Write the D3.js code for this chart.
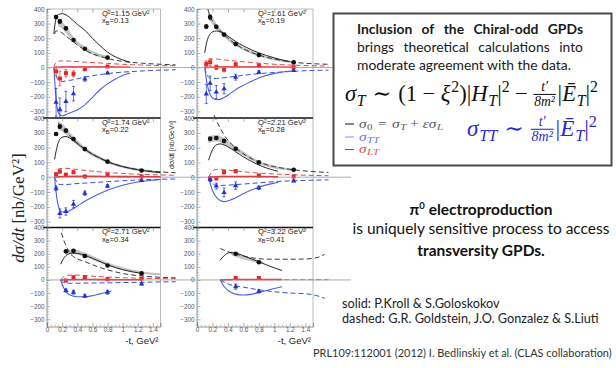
<!DOCTYPE html>
<html><head><meta charset="utf-8">
<script src="https://cdn.jsdelivr.net/npm/d3@7"></script>
<style>body{margin:0;background:#fff}svg{display:block}</style>
</head><body><svg id="c" width="616" height="368"></svg>
<script>
// ---------------- DATA ----------------
const panelQ2 = ["1.15","1.61","1.74","2.21","2.71","3.22"];
const panelXB = ["0.13","0.19","0.22","0.28","0.34","0.41"];
const xTickLabels = ["0","0.2","0.4","0.6","0.8","1","1.2","1.4"];
const xTickValues = [0,0.2,0.4,0.6,0.8,1.0,1.2,1.4];
const yTickValues = [-300,-200,-100,0,100,200,300,400];

const tPoints = [
  [0.12,0.17,0.25,0.35,0.5,0.8],
  [0.12,0.17,0.25,0.35,0.5,0.8,1.25],
  [0.12,0.17,0.25,0.35,0.5,0.8,1.25],
  [0.17,0.25,0.35,0.5,0.8,1.25],
  [0.25,0.35,0.5,0.8,1.25],
  [0.5,0.8]
];
const sigma0 = [
  [345,315,268,188,128,68],
  [280,345,278,225,160,85,35],
  [292,342,315,258,190,105,45],
  [260,265,245,192,100,50],
  [218,222,183,110,50],
  [200,135]
];
const sigma0Err = [
  [12,12,10,8,6,5],
  [12,15,10,8,6,5,4],
  [10,12,10,8,6,5,4],
  [10,10,8,6,5,4],
  [8,8,6,5,4],
  [8,6]
];
const sigmaLT = [
  [-27,-75,-38,-43,-11,7],
  [25,36,2,-14,22,14,2],
  [20,38,16,34,4,15,4],
  [-10,-8,34,40,11,5],
  [-5,20,20,5,10],
  [15,15]
];
const sigmaLTErr = [
  [30,50,25,20,10,8],
  [20,25,15,15,10,8,5],
  [10,12,10,10,8,6,5],
  [12,12,12,10,8,6],
  [8,10,10,8,6],
  [8,8]
];
const sigmaTT = [
  [-238,-288,-232,-179,-79,-38],
  [-180,-108,-168,-145,-66,-32,-20],
  [-75,-245,-232,-182,-108,-60,-23],
  [-15,-60,-103,-57,-72,-25],
  [-81,-94,-122,-94,-30],
  [-51,-87]
];
const sigmaTTErr = [
  [95,80,70,50,15,6],
  [65,50,45,35,20,10,5],
  [15,30,25,25,15,10,5],
  [15,20,30,25,12,6],
  [12,15,12,15,8],
  [20,12]
];

// model curves [ -t , value ]
const gkSigma0 = [
  [[0.09,230],[0.12,335],[0.15,362],[0.2,368],[0.25,360],[0.3,342],[0.4,295],[0.5,255],[0.6,200],[0.7,150],[0.8,105],[0.9,74],[1.0,52],[1.1,36]],
  [[0.1,100],[0.12,160],[0.15,212],[0.2,243],[0.25,250],[0.3,245],[0.4,215],[0.5,178],[0.6,148],[0.7,122],[0.8,100],[0.9,82],[1.0,66],[1.1,52],[1.2,40]],
  [[0.1,120],[0.12,175],[0.15,235],[0.2,270],[0.25,275],[0.3,265],[0.4,228],[0.5,188],[0.6,155],[0.7,130],[0.8,105],[1.0,72],[1.2,50],[1.4,36],[1.5,30]],
  [[0.15,115],[0.2,185],[0.25,218],[0.3,225],[0.4,205],[0.5,172],[0.6,137],[0.7,108],[0.8,82],[0.9,62],[1.0,46],[1.05,40]],
  [[0.18,120],[0.22,165],[0.27,193],[0.33,205],[0.4,203],[0.5,188],[0.6,165],[0.7,140],[0.8,115],[0.9,95],[1.0,78],[1.25,50]],
  [[0.3,150],[0.35,185],[0.42,208],[0.5,205],[0.6,185],[0.7,162],[0.8,138],[0.9,115],[1.0,92],[1.1,72]]
];
const gglSigma0 = [
  [[0.1,230],[0.12,250],[0.17,245],[0.25,215],[0.35,175],[0.5,120],[0.8,62],[1.0,42],[1.25,30],[1.5,22],[1.7,18]],
  [[0.14,400],[0.17,350],[0.2,318],[0.25,282],[0.35,225],[0.5,160],[0.8,85],[1.0,58],[1.25,36],[1.5,26],[1.7,22]],
  [[0.15,365],[0.2,335],[0.25,308],[0.35,255],[0.5,190],[0.8,105],[1.0,72],[1.25,48],[1.5,36],[1.7,30]],
  [[0.22,420],[0.3,330],[0.4,250],[0.5,198],[0.8,102],[1.0,72],[1.25,50],[1.5,38],[1.7,32]],
  [[0.19,360],[0.23,290],[0.27,240],[0.3,205],[0.35,178],[0.5,140],[0.7,95],[0.9,62],[1.1,40],[1.3,28],[1.5,20],[1.7,16]],
  [[0.3,240],[0.38,220],[0.45,205],[0.55,190],[0.7,170],[0.85,160],[1.0,158],[1.2,158],[1.4,160],[1.55,170],[1.65,195]]
];
const bandT = [
  [0.15,0.2,0.25,0.35,0.5,0.8],
  [0.15,0.2,0.25,0.35,0.5,0.8,1.25],
  [0.15,0.2,0.25,0.35,0.5,0.8,1.25,1.5],
  [0.15,0.25,0.35,0.5,0.8,1.25],
  [0.25,0.35,0.5,0.8,1.25,1.5],
  [0.45,0.6,0.75,0.85]
];
const bandLo = [
  [285,270,240,180,118,60],
  [330,300,265,210,150,78,32],
  [325,310,290,240,178,98,42,30],
  [235,245,225,180,92,44],
  [195,200,178,112,52,38],
  [190,160,138,122]
];
const bandHi = [
  [330,310,280,205,140,75],
  [370,340,295,235,170,92,40],
  [375,360,330,272,202,112,52,38],
  [275,282,262,205,108,54],
  [225,230,205,130,62,46],
  [215,182,155,138]
];
const gkTT = [
  [[0.09,0],[0.11,-150],[0.13,-260],[0.16,-318],[0.2,-330],[0.25,-322],[0.3,-310],[0.4,-290],[0.5,-255],[0.6,-205],[0.7,-152],[0.8,-112],[0.9,-80],[1.0,-55],[1.1,-38]],
  [[0.1,0],[0.13,-110],[0.17,-185],[0.22,-215],[0.27,-220],[0.35,-205],[0.45,-170],[0.55,-135],[0.7,-95],[0.85,-62],[1.0,-40],[1.15,-27],[1.25,-22]],
  [[0.1,0],[0.13,-140],[0.16,-210],[0.2,-235],[0.25,-235],[0.3,-225],[0.4,-195],[0.5,-162],[0.6,-135],[0.7,-110],[0.8,-88],[1.0,-55],[1.2,-33],[1.4,-20],[1.5,-15]],
  [[0.15,0],[0.2,-90],[0.25,-135],[0.3,-157],[0.35,-165],[0.45,-150],[0.55,-125],[0.65,-98],[0.8,-68],[0.9,-52],[1.0,-40],[1.05,-36]],
  [[0.18,0],[0.22,-60],[0.27,-100],[0.33,-120],[0.4,-128],[0.5,-128],[0.6,-120],[0.7,-106],[0.8,-92],[0.85,-85]],
  [[0.3,0],[0.35,-50],[0.42,-88],[0.5,-108],[0.6,-115],[0.7,-110],[0.8,-95],[0.9,-80],[1.0,-65],[1.1,-52]]
];
const gglTT = [
  [[0.09,0],[0.12,-55],[0.15,-85],[0.2,-95],[0.3,-88],[0.4,-78],[0.5,-66],[0.7,-48],[0.9,-36],[1.2,-25],[1.5,-18],[1.7,-15]],
  [[0.1,0],[0.13,-50],[0.17,-72],[0.25,-75],[0.35,-70],[0.5,-60],[0.8,-42],[1.0,-34],[1.25,-26],[1.5,-20],[1.7,-18]],
  [[0.1,0],[0.13,-35],[0.17,-50],[0.25,-50],[0.35,-45],[0.5,-40],[0.8,-30],[1.0,-24],[1.25,-18],[1.5,-14],[1.7,-12]],
  [[0.15,0],[0.2,-40],[0.25,-55],[0.35,-55],[0.5,-50],[0.8,-38],[1.0,-30],[1.25,-24],[1.5,-20],[1.7,-18]],
  [[0.18,0],[0.22,-20],[0.27,-25],[0.4,-25],[0.6,-23],[0.8,-22],[1.0,-20],[1.25,-18],[1.5,-15],[1.7,-14]],
  [[0.3,0],[0.4,-30],[0.5,-45],[0.6,-55],[0.8,-75],[1.0,-90],[1.2,-100],[1.4,-105],[1.55,-120],[1.65,-140]]
];
const gkLT = [
  [[0.09,0],[0.2,3],[0.5,4],[0.8,3],[1.1,2]],
  [[0.1,0],[0.3,4],[0.7,4],[1.25,2]],
  [[0.1,0],[0.2,5],[0.5,6],[1.0,4],[1.5,3]],
  [[0.15,0],[0.3,5],[0.6,5],[1.05,3]],
  [[0.18,0],[0.5,3],[1.0,2],[1.25,2]],
  [[0.3,0],[0.5,3],[1.1,3]]
];
const gglLT = [
  [[0.09,0],[0.12,35],[0.17,45],[0.25,45],[0.35,42],[0.5,37],[0.8,28],[1.0,22],[1.25,17],[1.5,13],[1.7,12]],
  [[0.1,0],[0.13,40],[0.17,55],[0.25,58],[0.35,52],[0.5,44],[0.8,30],[1.0,22],[1.25,16],[1.5,12],[1.7,10]],
  [[0.1,0],[0.13,45],[0.17,58],[0.25,60],[0.35,55],[0.5,46],[0.8,32],[1.0,25],[1.25,19],[1.5,15],[1.7,13]],
  [[0.15,0],[0.2,40],[0.25,52],[0.35,50],[0.5,42],[0.8,28],[1.0,22],[1.25,16],[1.5,12],[1.7,10]],
  [[0.18,0],[0.22,25],[0.27,35],[0.35,38],[0.5,33],[0.8,22],[1.0,17],[1.25,13],[1.5,10],[1.7,9]],
  [[0.3,0],[0.5,2],[1.0,2],[1.5,2],[1.7,2]]
];

// ---------------- LAYOUT ----------------
const svg = d3.select("#c");
const AX = "Liberation Sans, Arial, sans-serif";
const SLIDE = "Lato, 'Open Sans', sans-serif";
const SERIF = "Liberation Serif, 'DejaVu Serif', serif";
const colX = [[47,160.5],[197,313]];
const colOver = [197, 352];
const rowDom = [[-345,400],[-340,400],[-355,400]];
const rowRng = [[118,9],[227.5,118],[326.5,227.5]];
const C = {blk:"#262626", dash:"#3a3a3a", red:"#e3262b", redD:"#e24a4a", blue:"#4c5ee6", blueD:"#3a4dd8", bluePt:"#2233cc", band:"#c6c6c6"};

const defs = svg.append("defs");

panelQ2.forEach((q2, i) => {
  const col = i % 2, row = Math.floor(i / 2);
  const x = d3.scaleLinear().domain([0, 1.5]).range(colX[col]);
  const y = d3.scaleLinear().domain(rowDom[row]).range(rowRng[row]);
  const x0 = colX[col][0], x1 = colX[col][1];
  const yT = rowRng[row][1], yB = rowRng[row][0];
  const g = svg.append("g");

  defs.append("clipPath").attr("id", "clip" + i).append("rect")
    .attr("x", x0).attr("y", yT - 9).attr("width", colOver[col] - x0).attr("height", yB - yT + 9);

  // frame
  g.append("line").attr("x1", x1).attr("x2", x1).attr("y1", yT).attr("y2", yB).attr("stroke", "#aaa").attr("stroke-width", 0.8);
  g.append("line").attr("x1", x0).attr("x2", x0).attr("y1", yT).attr("y2", yB).attr("stroke", "#777").attr("stroke-width", 0.8);
  if (row > 0) g.append("line").attr("x1", x0 - 4).attr("x2", x1).attr("y1", yT).attr("y2", yT).attr("stroke", "#111").attr("stroke-width", 1.4);
  else g.append("line").attr("x1", x0).attr("x2", x1).attr("y1", yT).attr("y2", yT).attr("stroke", "#aaa").attr("stroke-width", 0.8);

  // y axis (inward ticks)
  const ya = g.append("g").attr("transform", `translate(${x0},0)`)
    .call(d3.axisLeft(y).tickValues(yTickValues).tickSize(-3.5).tickPadding(2.5).tickFormat(d3.format("d")));
  ya.select(".domain").remove();
  ya.selectAll("line").attr("stroke", "#777").attr("stroke-width", 0.6);
  ya.selectAll("text").attr("font-family", AX).attr("font-size", 6.3).attr("fill", "#555");
  const yMinor = d3.range(-340, 401, 20).filter(v => v >= rowDom[row][0] && v % 100 !== 0);
  const ym = g.append("g").attr("transform", `translate(${x0},0)`)
    .call(d3.axisLeft(y).tickValues(yMinor).tickSize(-2).tickFormat(""));
  ym.select(".domain").remove();
  ym.selectAll("line").attr("stroke", "#888").attr("stroke-width", 0.5);
  // top ticks
  const xt = g.append("g").attr("transform", `translate(0,${yT})`)
    .call(d3.axisTop(x).tickValues(xTickValues).tickSize(-3.5).tickFormat(""));
  xt.select(".domain").remove();
  xt.selectAll("line").attr("stroke", "#777").attr("stroke-width", 0.6);

  // bottom axis for last row
  if (row === 2) {
    const xa = g.append("g").attr("transform", `translate(0,${yB})`)
      .call(d3.axisBottom(x).tickValues(xTickValues).tickSize(-3.5).tickPadding(1.5).tickFormat((d, k) => xTickLabels[k]));
    xa.select(".domain").attr("stroke", "#777").attr("stroke-width", 0.8);
    xa.selectAll("line").attr("stroke", "#777").attr("stroke-width", 0.6);
    xa.selectAll("text").attr("font-family", AX).attr("font-size", 6.3).attr("fill", "#555");
    const xm = g.append("g").attr("transform", `translate(0,${yB})`)
      .call(d3.axisBottom(x).tickValues(d3.range(0.05, 1.5, 0.05).filter(v => Math.abs(v * 5 - Math.round(v * 5)) > 0.01)).tickSize(-2).tickFormat(""));
    xm.select(".domain").remove();
    xm.selectAll("line").attr("stroke", "#888").attr("stroke-width", 0.5);
    g.append("text").attr("x", x1 - 2).attr("y", yB + 17).attr("text-anchor", "end")
      .attr("font-family", AX).attr("font-size", 9.5).attr("fill", "#222").text("-t, GeV²");
  }

  // panel labels
  const lx = col === 0 ? 102 : 258;
  g.append("text").attr("x", lx).attr("y", yT + 6.5).attr("font-family", AX).attr("font-size", 7.6).attr("fill", "#222")
    .text(`Q²=${q2} GeV²`);
  const xb = g.append("text").attr("x", lx).attr("y", yT + 14).attr("font-family", AX).attr("font-size", 7.6).attr("fill", "#222");
  xb.append("tspan").text("x");
  xb.append("tspan").attr("font-size", 5.5).attr("dy", 1.5).text("B");
  xb.append("tspan").attr("dy", -1.5).text("=" + panelXB[i]);

  const pg = g.append("g").attr("clip-path", `url(#clip${i})`);
  const line = d3.line().x(d => x(d[0])).y(d => y(d[1])).curve(d3.curveMonotoneX);

  // band
  const bd = bandT[i].map((t, k) => ({t, lo: bandLo[i][k], hi: bandHi[i][k]}));
  pg.append("path").datum(bd)
    .attr("d", d3.area().x(d => x(d.t)).y0(d => y(d.lo)).y1(d => y(d.hi)).curve(d3.curveMonotoneX))
    .attr("fill", C.band).attr("stroke", "#a8a8a8").attr("stroke-width", 0.5);

  // zero line
  g.append("line").attr("x1", x0).attr("x2", colOver[col] - 1).attr("y1", y(0)).attr("y2", y(0))
    .attr("stroke", "#999").attr("stroke-width", 0.8);

  pg.append("path").datum(gglLT[i]).attr("d", line).attr("fill", "none").attr("stroke", C.redD).attr("stroke-width", 1).attr("stroke-dasharray", "5,3");
  pg.append("path").datum(gkLT[i]).attr("d", line).attr("fill", "none").attr("stroke", C.red).attr("stroke-width", 1.6);
  pg.append("path").datum(gglTT[i]).attr("d", line).attr("fill", "none").attr("stroke", C.blueD).attr("stroke-width", 1).attr("stroke-dasharray", "5,3");
  pg.append("path").datum(gkTT[i]).attr("d", line).attr("fill", "none").attr("stroke", C.blue).attr("stroke-width", 1.1);
  pg.append("path").datum(gglSigma0[i]).attr("d", line).attr("fill", "none").attr("stroke", C.dash).attr("stroke-width", 1).attr("stroke-dasharray", "5,3");
  pg.append("path").datum(gkSigma0[i]).attr("d", line).attr("fill", "none").attr("stroke", C.blk).attr("stroke-width", 1);

  // data points with error bars
  const sets = [
    {v: sigmaLT[i], e: sigmaLTErr[i], c: C.red, sym: d3.symbolSquare, s: 16},
    {v: sigmaTT[i], e: sigmaTTErr[i], c: C.bluePt, sym: d3.symbolTriangle, s: 12},
    {v: sigma0[i], e: sigma0Err[i], c: "#111", sym: d3.symbolCircle, s: 17}
  ];
  sets.forEach(st => {
    const pts = tPoints[i].map((t, k) => ({t, v: st.v[k], e: st.e[k]}));
    const eg = pg.append("g").attr("stroke", st.c).attr("stroke-width", 0.7);
    pts.forEach(d => {
      eg.append("line").attr("x1", x(d.t)).attr("x2", x(d.t)).attr("y1", y(d.v - d.e)).attr("y2", y(d.v + d.e));
      eg.append("line").attr("x1", x(d.t) - 1.5).attr("x2", x(d.t) + 1.5).attr("y1", y(d.v - d.e)).attr("y2", y(d.v - d.e));
      eg.append("line").attr("x1", x(d.t) - 1.5).attr("x2", x(d.t) + 1.5).attr("y1", y(d.v + d.e)).attr("y2", y(d.v + d.e));
    });
    pg.selectAll(null).data(pts).join("path")
      .attr("transform", d => `translate(${x(d.t)},${y(d.v)})`)
      .attr("d", d3.symbol().type(st.sym).size(st.s)).attr("fill", st.c);
  });
});

// axis titles
{
  const t = svg.append("text").attr("transform", "translate(24,208) rotate(-90)").attr("text-anchor", "middle")
    .attr("font-family", SERIF).attr("font-size", 17).attr("fill", "#222");
  t.append("tspan").attr("font-style", "italic").text("dσ/dt");
  t.append("tspan").text(" [nb/GeV²]");
  svg.append("text").attr("transform", "translate(174,145) rotate(-90)").attr("text-anchor", "middle")
    .attr("font-family", AX).attr("font-size", 7).attr("fill", "#333").text("dσ/dt  [nb/GeV²]");
}

// ---------------- SLIDE TEXT ----------------
function measure(str, fs, weight, family) {
  const t = svg.append("text").attr("font-size", fs).attr("font-weight", weight).attr("font-family", family).text(str);
  const w = t.node().getComputedTextLength(); t.remove(); return w;
}
function fitSize(str, w, weight, family) { return 14 * w / measure(str, 14, weight, family); }
function justify(str, xa, xb, yy, fs, weight) {
  const words = str.split(" ");
  const ws = words.map(w => measure(w, fs, weight, SLIDE));
  const gap = (xb - xa - d3.sum(ws)) / (words.length - 1);
  let xx = xa;
  words.forEach((w, k) => {
    svg.append("text").attr("x", xx).attr("y", yy).attr("font-family", SLIDE).attr("font-size", fs)
      .attr("font-weight", weight).attr("fill", "#1a1a1a").text(w);
    xx += ws[k] + gap;
  });
}

// box
svg.append("rect").attr("x", 333.5).attr("y", 13.5).attr("width", 278).attr("height", 152)
  .attr("fill", "#fff").attr("stroke", "#4a4a4a").attr("stroke-width", 2);
const fsBox = fitSize("moderate agreement with the data.", 214, 400, SLIDE);
justify("Inclusion of the Chiral-odd GPDs", 357, 583, 34, fsBox, 700);
justify("brings theoretical calculations into", 357, 583, 52, fsBox, 400);
svg.append("text").attr("x", 357).attr("y", 70).attr("font-family", SLIDE).attr("font-size", fsBox)
  .attr("fill", "#1a1a1a").text("moderate agreement with the data.");

// math layout: parts are glyph runs, sub/superscripts, spaces (sp, in em) and fractions
function mathRow(x0, y0, fs, color, parts, targetW, fixedScale, xOnly) {
  const g = svg.append("g").attr("fill", color).attr("font-family", SERIF);
  let xx = 0;
  parts.forEach(p => {
    if (p.sp !== undefined) { xx += p.sp * fs; return; }
    if (p.frac) {
      const f = fs * 0.6;
      const num = g.append("text").attr("font-size", f).attr("font-style", "italic").attr("text-anchor", "middle").text(p.frac[0]);
      const den = g.append("text").attr("font-size", f).attr("font-style", "italic").attr("text-anchor", "middle").text(p.frac[1]);
      const w = Math.max(num.node().getComputedTextLength(), den.node().getComputedTextLength()) + fs * 0.08;
      num.attr("x", xx + w / 2).attr("y", -fs * 0.42);
      den.attr("x", xx + w / 2).attr("y", fs * 0.2);
      g.append("line").attr("x1", xx).attr("x2", xx + w).attr("y1", -fs * 0.29).attr("y2", -fs * 0.29)
        .attr("stroke", color).attr("stroke-width", fs * 0.045);
      xx += w;
    } else {
      const small = p.sub || p.sup;
      const t = g.append("text").attr("x", xx).attr("y", p.sub ? fs * 0.2 : p.sup ? -fs * 0.4 : 0)
        .attr("font-size", small ? fs * 0.7 : fs).attr("font-style", p.i ? "italic" : "normal").text(p.t);
      xx += t.node().getComputedTextLength() + (p.i && !small ? fs * 0.03 : 0);
    }
  });
  const sc = fixedScale || targetW / xx;
  g.attr("transform", `translate(${x0},${y0}) scale(${sc},${xOnly ? 1 : sc})`);
  return sc;
}
const REL = 0.3, BIN = 0.24;
mathRow(345, 101, 19, "#111", [
  {t: "σ", i: 1}, {t: "T", i: 1, sub: 1}, {sp: REL}, {t: "∼"}, {sp: REL}, {t: "(1"}, {sp: BIN}, {t: "−"}, {sp: BIN},
  {t: "ξ", i: 1}, {t: "2", sup: 1}, {t: ")|"}, {t: "H", i: 1}, {t: "T", i: 1, sub: 1}, {t: "|"}, {t: "2", sup: 1},
  {sp: BIN}, {t: "−"}, {sp: BIN}, {frac: ["t′", "8m²"]}, {sp: 0.08},
  {t: "|"}, {t: "Ē", i: 1}, {t: "T", i: 1, sub: 1}, {t: "|"}, {t: "2", sup: 1}
], 253);
mathRow(467, 136, 17, "#2a2ad4", [
  {t: "σ", i: 1}, {t: "TT", i: 1, sub: 1}, {sp: REL}, {t: "∼"}, {sp: REL}, {frac: ["t′", "8m²"]}, {sp: 0.08},
  {t: "|"}, {t: "Ē", i: 1}, {t: "T", i: 1, sub: 1}, {t: "|"}, {t: "2", sup: 1}
], 130);
// legend
const legSc = mathRow(359, 127.5, 12, "#555", [
  {t: "σ", i: 1}, {t: "0", sub: 1}, {sp: 0.35}, {t: "="}, {sp: 0.35}, {t: "σ", i: 1}, {t: "T", i: 1, sub: 1},
  {sp: 0.25}, {t: "+"}, {sp: 0.25}, {t: "εσ", i: 1}, {t: "L", i: 1, sub: 1}
], 84, null, true);
mathRow(359, 140.5, 12, "#6274e6", [{t: "σ", i: 1}, {t: "TT", i: 1, sub: 1}], null, legSc, true);
mathRow(359, 153, 12, "#e04848", [{t: "σ", i: 1}, {t: "LT", i: 1, sub: 1}], null, legSc, true);
[["#222", 124], ["#8a9af0", 137], ["#e3262b", 149.5]].forEach(([c, yy]) =>
  svg.append("line").attr("x1", 345).attr("x2", 354).attr("y1", yy).attr("y2", yy).attr("stroke", c).attr("stroke-width", 1.1));

// pi0 text
const fsMid = fitSize("is uniquely sensitive process to access", 257, 400, SLIDE);
{
  const t = svg.append("text").attr("x", 481).attr("y", 215).attr("text-anchor", "middle").attr("font-family", SLIDE)
    .attr("font-size", fsMid).attr("font-weight", 700).attr("fill", "#111");
  t.append("tspan").text("π");
  t.append("tspan").attr("font-size", fsMid * 0.62).attr("dy", -6).text("0");
  t.append("tspan").attr("dy", 6).text(" electroproduction");
  svg.append("text").attr("x", 481).attr("y", 234).attr("text-anchor", "middle").attr("font-family", SLIDE)
    .attr("font-size", fsMid).attr("fill", "#111").text("is uniquely sensitive process to access");
  svg.append("text").attr("x", 481).attr("y", 256).attr("text-anchor", "middle").attr("font-family", SLIDE)
    .attr("font-size", fsMid).attr("font-weight", 700).attr("fill", "#111").text("transversity GPDs.");
}
const fsSm = fitSize("dashed: G.R. Goldstein, J.O. Gonzalez & S.Liuti", 257, 400, SLIDE);
svg.append("text").attr("x", 342).attr("y", 308).attr("font-family", SLIDE).attr("font-size", fsSm).attr("fill", "#222")
  .text("solid: P.Kroll & S.Goloskokov");
svg.append("text").attr("x", 342).attr("y", 323).attr("font-family", SLIDE).attr("font-size", fsSm).attr("fill", "#222")
  .text("dashed: G.R. Goldstein, J.O. Gonzalez & S.Liuti");
const fsRef = fitSize("PRL109:112001 (2012) I. Bedlinskiy et al. (CLAS collaboration)", 299, 400, SLIDE);
svg.append("text").attr("x", 313).attr("y", 357).attr("font-family", SLIDE).attr("font-size", fsRef).attr("fill", "#333")
  .text("PRL109:112001 (2012) I. Bedlinskiy et al. (CLAS collaboration)");
</script>
</body></html>
